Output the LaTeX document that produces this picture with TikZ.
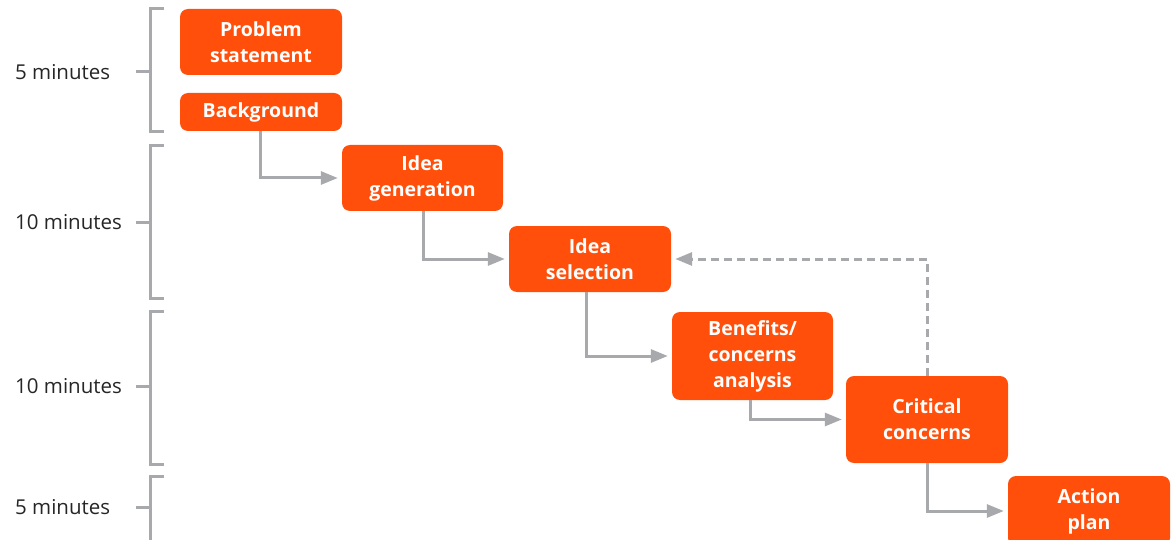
\documentclass[tikz,border=0pt]{standalone}
\usepackage{fontspec}
\setmainfont{Open Sans}
\usetikzlibrary{arrows.meta}
\definecolor{orng}{HTML}{FF4F0A}
\definecolor{lgray}{HTML}{A7A9AC}
\definecolor{dgray}{HTML}{262626}
\tikzset{
  box/.style={fill=orng, rounded corners=8pt, text=white, font=\fontsize{19.5}{26}\selectfont\bfseries, align=center, inner sep=0pt},
  conn/.style={draw=lgray, line width=3pt, shorten >=4pt, -{Triangle[length=17pt,width=13pt]}},
  dconn/.style={conn, dash pattern=on 8pt off 5pt},
  brk/.style={draw=lgray, line width=3pt},
  lbl/.style={text=dgray, font=\fontsize{20.5}{24}\selectfont, anchor=west, inner sep=0pt}
}
\begin{document}
\begin{tikzpicture}[x=1pt,y=-1pt]
\useasboundingbox (0,0) rectangle (1172,540);
% boxes
\node[box, minimum width=162pt, minimum height=66pt] (ps) at (261,42) {Problem\\statement};
\node[box, minimum width=162pt, minimum height=38pt] (bg) at (261,112) {Background};
\node[box, minimum width=161pt, minimum height=66pt] (ig) at (422.5,178) {Idea\\generation};
\node[box, minimum width=162pt, minimum height=66pt] (is) at (590,259) {Idea\\selection};
\node[box, minimum width=161pt, minimum height=88pt] (bc) at (752.5,356) {Benefits/\\concerns\\analysis};
\node[box, minimum width=162pt, minimum height=87pt] (cc) at (927,419.5) {Critical\\concerns};
\node[box, minimum width=162pt, minimum height=70pt] (ap) at (1089,511) {Action\\plan};
% connectors
\draw[conn] (bg.south -| 260,0) |- (ig.west);
\draw[conn] (ig.south -| 423,0) |- (is.west);
\draw[conn] (is.south -| 586,0) |- (bc.west);
\draw[conn] (bc.south -| 750,0) |- (cc.west);
\draw[conn] (cc.south) |- (ap.west);
\draw[dconn] (cc.north) |- (is.east);
% brackets
\coordinate (b1) at (150,72);
\coordinate (b2) at (150,222);
\coordinate (b3) at (150,386);
\coordinate (b4) at (150,507);
\draw[brk] (164,9) -- (150,9) -- (150,132) -- (164,132);
\draw[brk] (164,146) -- (150,146) -- (150,298) -- (164,298);
\draw[brk] (164,311) -- (150,311) -- (150,464) -- (164,464);
\draw[brk] (164,476) -- (150,476) -- (150,545);
\draw[brk] (b1) -- ++(-14,0);
\draw[brk] (b2) -- ++(-14,0);
\draw[brk] (b3) -- ++(-14,0);
\draw[brk] (b4) -- ++(-14,0);
% labels
\node[lbl] (l1) at (15,72) {5 minutes};
\node[lbl] (l2) at (15,222) {10 minutes};
\node[lbl] (l3) at (15,386) {10 minutes};
\node[lbl] (l4) at (15,507) {5 minutes};
\end{tikzpicture}
\end{document}
